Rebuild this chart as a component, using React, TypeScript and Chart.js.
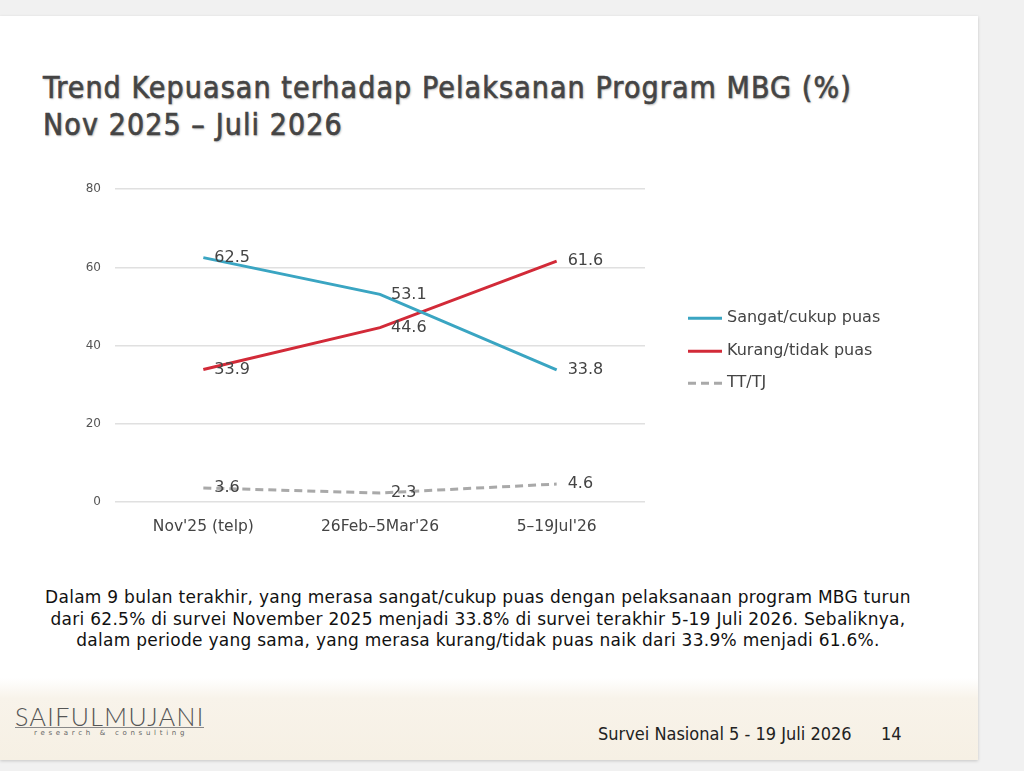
import React, { useEffect, useRef } from "react";
import { Chart, registerables } from "chart.js";

Chart.register(...registerables);

const categories = ["Nov'25 (telp)", "26Feb\u20135Mar'26", "5\u201319Jul'26"];
const puasValues = [62.5, 53.1, 33.8];
const tidakPuasValues = [33.9, 44.6, 61.6];
const ttValues = [3.6, 2.3, 4.6];
const seriesNames = ["Sangat/cukup puas", "Kurang/tidak puas", "TT/TJ"];
const yTicks = [0, 20, 40, 60, 80];

const BLUE = "#3aa5c2";
const RED = "#d22a38";
const GRAY = "#a9a9a9";
const FONT = "'DejaVu Sans', Verdana, sans-serif";

const labelPlugin = {
  id: "valueLabels",
  afterDatasetsDraw(chart: any) {
    const ctx = chart.ctx;
    ctx.save();
    ctx.font = `16px ${FONT}`;
    ctx.fillStyle = "#444";
    ctx.textAlign = "left";
    ctx.textBaseline = "middle";
    chart.data.datasets.forEach((ds: any, i: number) => {
      const meta = chart.getDatasetMeta(i);
      meta.data.forEach((pt: any, j: number) => {
        const v = ds.data[j];
        ctx.fillText(v.toFixed(1), pt.x + 11, pt.y);
      });
    });
    ctx.restore();
  },
};

const legendPlugin = {
  id: "sideLegend",
  afterDraw(chart: any) {
    const ctx = chart.ctx;
    const area = chart.chartArea;
    const x0 = area.right + 43;
    const ys = [area.top + 129, area.top + 162, area.top + 194];
    ctx.save();
    ctx.font = `16px ${FONT}`;
    ctx.textBaseline = "middle";
    ctx.textAlign = "left";
    chart.data.datasets.forEach((ds: any, i: number) => {
      const y = ys[i];
      ctx.strokeStyle = ds.borderColor;
      ctx.lineWidth = 3;
      ctx.setLineDash(ds.borderDash || []);
      ctx.beginPath();
      ctx.moveTo(x0, y);
      ctx.lineTo(x0 + 34, y);
      ctx.stroke();
      ctx.setLineDash([]);
      ctx.fillStyle = "#444";
      ctx.fillText(ds.label, x0 + 39, y);
    });
    ctx.restore();
  },
};

function LineChart() {
  const ref = useRef<HTMLCanvasElement>(null);
  useEffect(() => {
    if (!ref.current) return;
    const chart = new Chart(ref.current, {
      type: "line",
      data: {
        labels: categories,
        datasets: [
          {
            label: seriesNames[0],
            data: puasValues,
            borderColor: BLUE,
            backgroundColor: BLUE,
            borderWidth: 3,
            pointRadius: 0,
            tension: 0,
          },
          {
            label: seriesNames[1],
            data: tidakPuasValues,
            borderColor: RED,
            backgroundColor: RED,
            borderWidth: 3,
            pointRadius: 0,
            tension: 0,
          },
          {
            label: seriesNames[2],
            data: ttValues,
            borderColor: GRAY,
            backgroundColor: GRAY,
            borderWidth: 3,
            borderDash: [8, 5],
            pointRadius: 0,
            tension: 0,
          },
        ],
      },
      options: {
        responsive: false,
        animation: false,
        layout: { padding: { top: 6, right: 315, left: 0, bottom: 0 } },
        plugins: {
          legend: { display: false },
          tooltip: { enabled: false },
        },
        scales: {
          x: {
            offset: true,
            grid: { display: false, drawTicks: false },
            border: { display: false },
            ticks: {
              color: "#444",
              font: { family: FONT, size: 15.5 },
              padding: 16,
              maxRotation: 0,
            },
            afterFit: (s: any) => {
              s.height = 43;
            },
          },
          y: {
            min: 0,
            max: 80,
            afterBuildTicks: (s: any) => {
              s.ticks = yTicks.map((v) => ({ value: v }));
            },
            grid: { color: "#e0e0e0", lineWidth: 1.5, drawTicks: false },
            border: { display: false },
            ticks: {
              color: "#555",
              font: { family: FONT, size: 12 },
              padding: 14,
            },
            afterFit: (s: any) => {
              s.width = 55;
            },
          },
        },
      },
      plugins: [labelPlugin, legendPlugin],
    });
    return () => chart.destroy();
  }, []);
  return (
    <canvas
      ref={ref}
      width={900}
      height={377}
      style={{ position: "absolute", left: 60, top: 152, width: 900, height: 377 }}
    />
  );
}

export default function App() {
  useEffect(() => {
    document.body.style.margin = "0";
  }, []);
  return (
    <div
      style={{
        position: "fixed",
        left: 0,
        top: 0,
        width: 1024,
        height: 771,
        background: "#f1f1f1",
        overflow: "hidden",
        fontFamily: FONT,
      }}
    >
      <div
        style={{
          position: "absolute",
          left: 0,
          top: 16,
          width: 978,
          height: 744,
          background: "#ffffff",
          boxShadow: "0 1px 3px rgba(0,0,0,0.18)",
          overflow: "hidden",
        }}
      >
        <div
          style={{
            position: "absolute",
            left: 43,
            top: 53,
            fontFamily: "'DejaVu Sans Condensed', 'DejaVu Sans', sans-serif",
            fontWeight: 400,
            fontSize: 30,
            letterSpacing: 1.1,
            lineHeight: "37px",
            color: "#444",
            WebkitTextStroke: "0.6px #444",
            textShadow: "1px 1px 2px rgba(0,0,0,0.3)",
            whiteSpace: "nowrap",
          }}
        >
          Trend Kepuasan terhadap Pelaksanan Program MBG (%)
          <br />
          Nov 2025 – Juli 2026
        </div>
        <LineChart />
        <div
          style={{
            position: "absolute",
            left: 0,
            top: 571,
            width: 956,
            textAlign: "center",
            fontSize: 17,
            letterSpacing: 0.27,
            lineHeight: "21.5px",
            color: "#111",
            whiteSpace: "nowrap",
          }}
        >
          Dalam 9 bulan terakhir, yang merasa sangat/cukup puas dengan pelaksanaan program MBG turun
          <br />
          dari 62.5% di survei November 2025 menjadi 33.8% di survei terakhir 5-19 Juli 2026. Sebaliknya,
          <br />
          dalam periode yang sama, yang merasa kurang/tidak puas naik dari 33.9% menjadi 61.6%.
        </div>
        <div
          style={{
            position: "absolute",
            left: 0,
            top: 662,
            width: 978,
            height: 82,
            background:
              "linear-gradient(180deg, rgba(248,244,236,0) 0%, #f8f3ea 25%, #f6f0e4 100%)",
          }}
        >
          <div
            style={{
              position: "absolute",
              left: 15,
              top: 26,
              fontFamily: "Lato, sans-serif",
              fontWeight: 300,
              fontSize: 25,
              color: "#555",
              letterSpacing: 1.4,
              lineHeight: "25px",
              whiteSpace: "nowrap",
            }}
          >
            SAIFULMUJANI
          </div>
          <div
            style={{
              position: "absolute",
              left: 15,
              top: 49,
              width: 189,
              height: 1,
              background: "#888",
            }}
          />
          <div
            style={{
              position: "absolute",
              left: 34,
              top: 51,
              fontFamily: "'DejaVu Sans', sans-serif",
              fontSize: 7,
              letterSpacing: 3.7,
              color: "#666",
              lineHeight: "9px",
              whiteSpace: "nowrap",
            }}
          >
            research &amp; consulting
          </div>
          <div
            style={{
              position: "absolute",
              left: 598,
              top: 46,
              fontFamily: "'DejaVu Sans Condensed', 'DejaVu Sans', sans-serif",
              fontSize: 18,
              color: "#222",
              whiteSpace: "nowrap",
              lineHeight: "20px",
            }}
          >
            Survei Nasional 5 - 19 Juli 2026
            <span style={{ position: "absolute", left: 283 }}>14</span>
          </div>
        </div>
      </div>
    </div>
  );
}
